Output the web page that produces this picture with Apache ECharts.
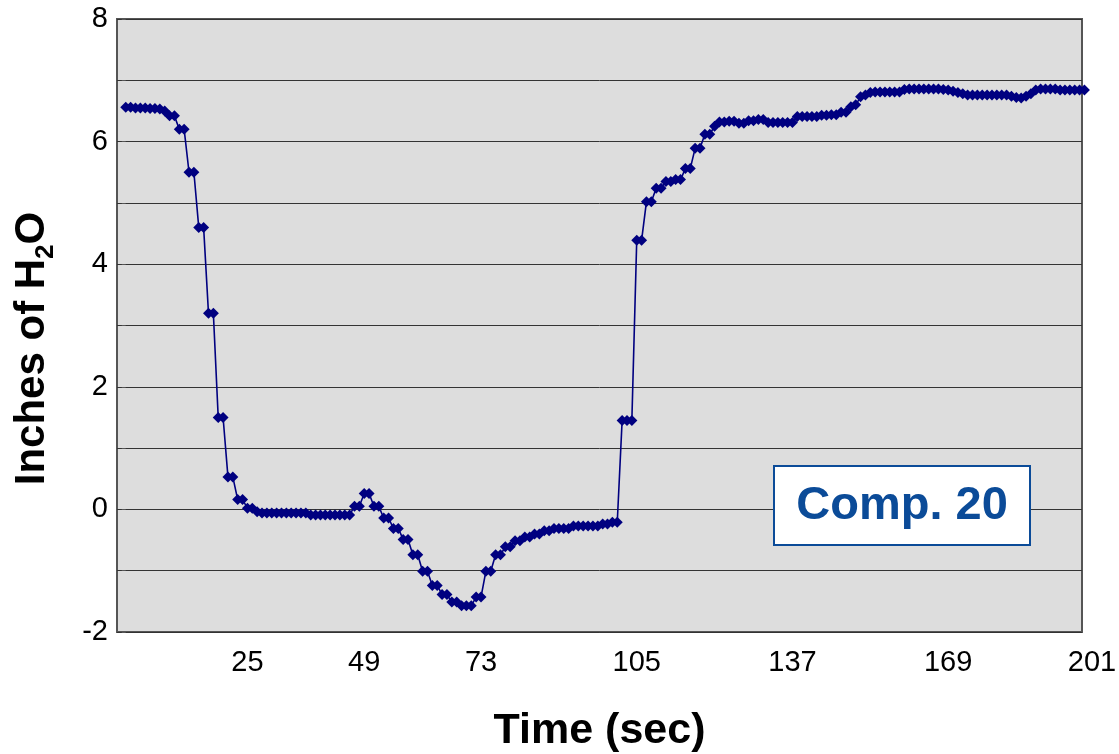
<!DOCTYPE html>
<html><head><meta charset="utf-8">
<script src="https://cdn.jsdelivr.net/npm/echarts@6/dist/echarts.min.js"></script>
<style>html,body{margin:0;padding:0;background:#fff}#c{width:1119px;height:754px}</style>
</head><body><div id="c"></div>
<script>
// Pressure (inches of H2O), one sample per second
const pressure = [
  6.56,6.56,6.55,6.55,6.55,6.54,6.54,6.53,6.50,6.42,
  6.42,6.20,6.20,5.50,5.50,4.60,4.60,3.20,3.20,1.50,
  1.50,0.53,0.53,0.16,0.16,0.02,0.02,-0.04,-0.06,-0.06,
  -0.06,-0.06,-0.06,-0.06,-0.06,-0.06,-0.06,-0.06,-0.09,-0.09,
  -0.09,-0.09,-0.09,-0.09,-0.09,-0.09,-0.09,0.05,0.05,0.26,
  0.26,0.05,0.05,-0.14,-0.14,-0.31,-0.31,-0.49,-0.49,-0.74,
  -0.74,-1.01,-1.01,-1.24,-1.24,-1.39,-1.39,-1.51,-1.51,-1.57,
  -1.57,-1.57,-1.43,-1.43,-1.01,-1.01,-0.74,-0.74,-0.61,-0.61,
  -0.51,-0.51,-0.45,-0.45,-0.40,-0.40,-0.35,-0.35,-0.31,-0.31,
  -0.31,-0.31,-0.27,-0.27,-0.27,-0.27,-0.27,-0.27,-0.24,-0.24,
  -0.21,-0.21,1.45,1.45,1.45,4.39,4.39,5.02,5.02,5.24,
  5.24,5.35,5.35,5.38,5.38,5.56,5.56,5.89,5.89,6.12,
  6.12,6.25,6.32,6.32,6.33,6.33,6.30,6.30,6.34,6.34,
  6.36,6.36,6.31,6.31,6.31,6.31,6.31,6.31,6.41,6.41,
  6.41,6.41,6.41,6.43,6.43,6.44,6.44,6.48,6.48,6.57,
  6.60,6.73,6.76,6.80,6.81,6.81,6.81,6.81,6.81,6.81,
  6.85,6.86,6.86,6.86,6.86,6.86,6.86,6.86,6.85,6.84,
  6.82,6.80,6.78,6.76,6.76,6.76,6.76,6.76,6.76,6.76,
  6.76,6.76,6.74,6.72,6.71,6.74,6.78,6.84,6.86,6.86,
  6.86,6.86,6.84,6.84,6.84,6.84,6.84,6.84
];
const xTickValues = [25, 49, 73, 105, 137, 169, 196.5];
const xTickLabels = ['25', '49', '73', '105', '137', '169', '201'];
const yMin = -2, yMax = 8, yStep = 1;
const annotation = 'Comp. 20';

const FONT = '"Liberation Sans", Arial, sans-serif';
const chart = echarts.init(document.getElementById('c'), null, {renderer: 'canvas'});
chart.setOption({
  animation: false,
  backgroundColor: '#ffffff',
  grid: {
    left: 117, right: 37, top: 19, bottom: 122,
    outerBoundsMode: 'none', containLabel: false,
    show: true, backgroundColor: '#dddddd', borderColor: '#555555', borderWidth: 2
  },
  xAxis: {
    type: 'value', min: -1.8, max: 196.5,
    axisLine: {show: false}, axisTick: {show: false}, splitLine: {show: false},
    axisLabel: {
      customValues: xTickValues,
      margin: 16,
      color: '#000', fontSize: 29, fontFamily: FONT,
      formatter: function (v) {
        const i = xTickValues.indexOf(v);
        if (i < 0) return '';
        return i === xTickValues.length - 1 ? '{last|' + xTickLabels[i] + '}' : xTickLabels[i];
      },
      rich: {last: {fontSize: 29, fontFamily: FONT, color: '#000', padding: [0, 0, 0, 20]}}
    },
    name: 'Time (sec)', nameLocation: 'middle', nameGap: 78,
    nameTextStyle: {fontSize: 43, fontWeight: 'bold', fontFamily: FONT, color: '#000'}
  },
  yAxis: {
    type: 'value', min: yMin, max: yMax, interval: yStep,
    axisLine: {show: false},
    axisTick: {show: true, length: 4, lineStyle: {color: '#555'}},
    splitLine: {show: true, lineStyle: {color: '#333', width: 1}},
    axisLabel: {
      margin: 9, color: '#000', fontSize: 29, fontFamily: FONT,
      formatter: function (v) { return (v % 2 === 0) ? String(v) : ''; }
    },
    name: '{a|Inches of H}{s|2}{a|O}', nameLocation: 'middle', nameGap: 58,
    nameTextStyle: {
      padding: [0, 46, 0, 0],
      rich: {
        a: {fontSize: 42, fontWeight: 'bold', fontFamily: FONT, color: '#000', verticalAlign: 'middle', lineHeight: 48},
        s: {fontSize: 26, fontWeight: 'bold', fontFamily: FONT, color: '#000', verticalAlign: 'bottom', lineHeight: 54}
      }
    }
  },
  series: [{
    type: 'line',
    data: pressure.map(function (v, i) { return [i, v]; }),
    symbol: 'diamond', symbolSize: 11, showAllSymbol: true,
    clip: false,
    itemStyle: {color: '#000080'},
    lineStyle: {color: '#000080', width: 1.6}
  }],
  graphic: [
    {type: 'rect', left: 773, top: 465, z: 100,
     shape: {width: 256, height: 79},
     style: {fill: '#ffffff', stroke: '#0b4b98', lineWidth: 2}},
    {type: 'text', x: 902, y: 506, z: 101,
     style: {text: annotation, font: 'bold 47px ' + FONT, fill: '#0b4b98', align: 'center', verticalAlign: 'middle'}}
  ]
});
</script>
</body></html>
